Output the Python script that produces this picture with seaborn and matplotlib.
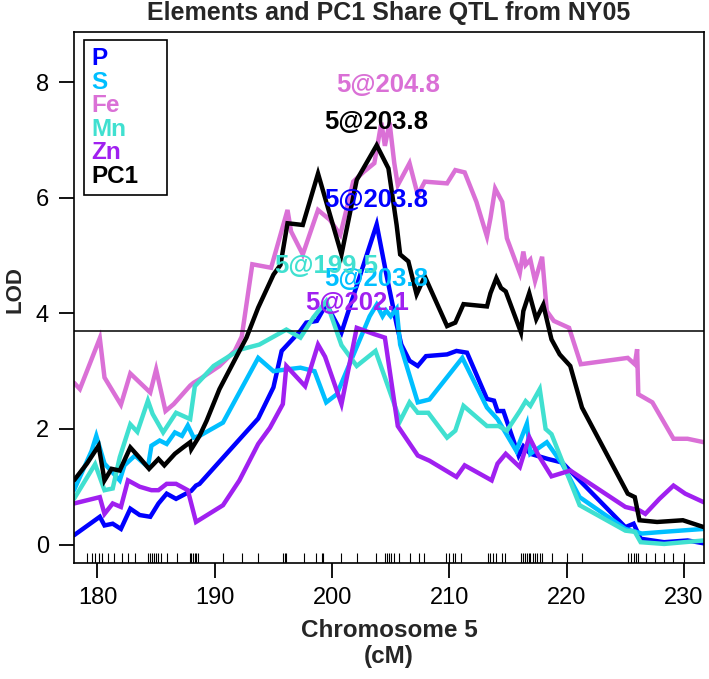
import matplotlib
matplotlib.use("Agg")
import matplotlib.pyplot as plt
import seaborn as sns
import pandas as pd
from matplotlib.lines import Line2D

# ---------------- data ----------------
p_x = [178.0, 180.2, 180.6, 181.3, 182.0, 182.8, 183.6, 184.5, 185.2, 185.9, 186.7, 188.0, 188.4, 188.7,
       191.0, 193.7, 195.0, 195.7, 197.3, 197.8, 198.7, 199.5, 200.8, 203.8, 204.6, 205.5, 205.9, 206.6,
       207.3, 208.0, 209.8, 210.6, 211.5, 213.2, 213.8, 214.1, 214.6, 215.9, 216.3, 216.9, 218.4, 219.6,
       225.0, 225.7, 226.3, 228.3, 230.3, 231.7]
p_y = [0.16, 0.48, 0.33, 0.36, 0.27, 0.62, 0.51, 0.48, 0.71, 0.88, 0.79, 0.93, 1.02, 1.05,
       1.57, 2.18, 2.72, 3.35, 3.70, 3.84, 3.87, 4.16, 3.67, 5.54, 4.70, 3.81, 3.46, 3.18,
       3.09, 3.26, 3.29, 3.35, 3.32, 2.52, 2.49, 2.31, 2.31, 1.54, 1.70, 1.57, 1.48, 1.42,
       0.30, 0.36, 0.10, 0.04, 0.07, 0.02]

s_x = [178.0, 179.5, 179.9, 180.6, 181.9, 182.3, 183.2, 184.3, 184.6, 185.3, 185.9, 186.6, 187.2, 187.7,
       188.2, 188.7, 190.7, 193.7, 195.0, 196.1, 197.3, 198.5, 199.5, 200.4, 203.2, 203.8, 204.3, 204.6,
       205.0, 205.5, 205.8, 207.3, 208.3, 211.1, 213.2, 214.1, 215.7, 216.6, 216.9, 218.3, 219.6, 221.1,
       225.0, 226.4, 228.3, 231.7]
s_y = [0.94, 1.62, 1.88, 1.40, 1.11, 1.37, 1.54, 1.34, 1.71, 1.80, 1.74, 1.94, 1.88, 2.06,
       1.85, 1.88, 2.11, 3.23, 3.00, 3.03, 3.06, 3.00, 2.46, 2.60, 3.95, 4.15, 3.95, 4.05,
       3.95, 4.08, 3.46, 2.46, 2.51, 3.23, 2.37, 2.17, 1.62, 2.09, 1.57, 1.77, 1.40, 0.82,
       0.27, 0.19, 0.22, 0.27]

fe_x = [178.0, 178.5, 180.2, 180.6, 182.0, 182.8, 184.5, 185.0, 185.8, 186.5, 187.9, 188.2, 188.7, 190.4,
        191.7, 192.3, 193.2, 194.8, 196.2, 196.5, 197.5, 198.8, 199.8, 200.7, 201.8, 202.7, 203.6, 204.2,
        204.5, 204.9, 205.3, 205.6, 206.6, 207.3, 207.9, 209.8, 210.5, 211.3, 212.3, 213.2, 213.5, 213.9,
        214.5, 214.9, 216.0, 216.3, 216.5, 216.9, 217.3, 217.9, 218.3, 218.9, 220.2, 221.2, 225.2, 225.8,
        226.0, 226.1, 227.3, 229.1, 230.3, 231.7]
fe_y = [2.80, 2.69, 3.57, 2.89, 2.42, 2.96, 2.63, 3.03, 2.31, 2.43, 2.75, 2.80, 2.86, 3.09,
        3.35, 3.60, 4.85, 4.79, 5.79, 5.42, 5.02, 5.79, 5.62, 5.36, 6.28, 6.45, 6.60, 7.30,
        6.90, 7.30, 6.60, 6.22, 6.60, 6.05, 6.28, 6.25, 6.48, 6.44, 5.93, 5.33, 5.65, 6.16,
        5.93, 5.30, 4.70, 5.07, 4.84, 4.93, 4.56, 4.98, 4.04, 3.87, 3.75, 3.12, 3.23, 3.12,
        3.38, 2.60, 2.46, 1.83, 1.83, 1.77]

mn_x = [178.0, 179.8, 180.6, 181.3, 181.9, 182.8, 183.4, 184.3, 184.7, 185.6, 186.7, 187.9, 188.3, 189.9,
        192.1, 193.8, 196.1, 197.3, 198.4, 199.5, 200.8, 202.1, 203.7, 204.5, 205.8, 206.6, 207.3, 208.2,
        209.8, 210.5, 211.2, 213.2, 214.2, 214.9, 216.0, 216.5, 216.9, 217.7, 218.2, 218.7, 219.6, 221.1,
        225.0, 225.8, 226.3, 228.3, 231.7]
mn_y = [0.79, 1.39, 0.94, 0.97, 1.51, 2.08, 1.95, 2.49, 2.26, 1.94, 2.28, 2.17, 2.74, 3.09,
        3.37, 3.46, 3.72, 3.58, 3.93, 4.21, 3.45, 3.09, 3.35, 2.89, 2.14, 2.46, 2.28, 2.28,
        1.85, 1.97, 2.40, 2.05, 2.05, 1.97, 2.31, 2.48, 2.40, 2.69, 2.00, 1.91, 1.45, 0.68,
        0.24, 0.22, 0.04, 0.01, 0.07]

zn_x = [178.0, 180.2, 180.6, 181.3, 182.0, 182.6, 183.6, 184.6, 185.2, 185.9, 186.7, 187.7, 188.4, 190.7,
        192.1, 193.7, 194.7, 195.8, 196.1, 197.7, 198.8, 199.4, 200.8, 202.1, 203.6, 204.5, 205.6, 207.3,
        208.3, 210.6, 211.3, 213.6, 214.1, 214.8, 216.0, 216.8, 217.6, 218.7, 220.3, 225.0, 226.2, 226.7,
        227.9, 229.1, 230.1, 231.7]
zn_y = [0.71, 0.82, 0.53, 0.71, 0.65, 1.11, 1.00, 0.94, 0.94, 1.05, 1.05, 0.94, 0.39, 0.68,
        1.11, 1.74, 2.02, 2.43, 3.09, 2.74, 3.46, 3.25, 2.43, 3.75, 3.64, 3.58, 2.05, 1.54,
        1.45, 1.17, 1.37, 1.11, 1.40, 1.57, 1.34, 1.86, 1.54, 1.18, 1.28, 0.65, 0.59, 0.53,
        0.79, 1.02, 0.88, 0.73]

pc1_x = [178.0, 179.1, 180.1, 180.6, 181.2, 181.9, 182.8, 183.6, 184.4, 185.2, 185.7, 186.6, 187.3, 187.9,
         188.0, 188.7, 189.3, 190.4, 192.1, 192.7, 193.7, 195.0, 195.6, 196.2, 197.5, 198.8, 200.8, 202.1,
         203.8, 204.8, 205.5, 205.8, 206.5, 207.2, 207.9, 209.8, 210.5, 211.2, 213.2, 213.5, 214.0, 214.4,
         214.8, 216.1, 216.3, 216.8, 217.4, 218.0, 218.7, 219.4, 220.3, 221.3, 225.2, 225.8, 226.2, 227.7,
         229.9, 231.7]
pc1_y = [1.11, 1.40, 1.71, 1.11, 1.31, 1.28, 1.68, 1.50, 1.31, 1.48, 1.37, 1.57, 1.68, 1.77,
         1.65, 1.88, 2.14, 2.69, 3.35, 3.58, 4.10, 4.67, 4.84, 5.56, 5.53, 6.42, 5.02, 6.31,
         6.91, 6.51, 5.53, 5.02, 4.90, 4.33, 4.64, 3.78, 3.84, 4.16, 4.12, 4.35, 4.61, 4.44,
         4.38, 3.67, 4.04, 4.35, 3.90, 4.15, 3.55, 3.29, 3.09, 2.37, 0.88, 0.82, 0.42, 0.39,
         0.42, 0.30]

markers = [179.1, 179.5, 179.8, 180.1, 180.4, 180.9, 181.4, 182.1, 182.6, 183.2, 184.35, 184.5, 184.65,
           184.8, 185.0, 185.2, 185.4, 185.9, 186.8, 187.9, 188.0, 188.15, 188.3, 188.4, 188.55, 190.7,
           192.3, 193.7, 195.8, 195.95, 196.1, 197.6, 198.6, 199.1, 199.25, 200.8, 202.1, 203.7, 204.55,
           204.7, 204.85, 205.0, 205.3, 205.7, 206.6, 207.4, 207.8, 209.7, 210.0, 210.3, 210.5, 211.0,
           213.3, 213.5, 213.7, 214.0, 214.5, 214.75, 216.1, 216.25, 216.45, 216.6, 216.75, 216.9, 217.1,
           217.3, 217.5, 217.7, 217.85, 218.75, 220.05, 221.3, 225.2, 225.5, 225.7, 225.9, 226.05, 226.75,
           227.5, 228.3, 229.1, 230.0]

traits = ["P", "S", "Fe", "Mn", "Zn", "PC1"]
colors = ["#0000FF", "#00BFFF", "#DA70D6", "#40E0D0", "#A020F0", "#000000"]
series_x = [p_x, s_x, fe_x, mn_x, zn_x, pc1_x]
series_y = [p_y, s_y, fe_y, mn_y, zn_y, pc1_y]

peak_labels = ["5@203.8", "5@203.8", "5@204.8", "5@199.5", "5@202.1", "5@203.8"]
label_x = [203.8, 203.8, 204.8, 199.5, 202.1, 203.8]
label_y = [5.97, 4.59, 7.95, 4.82, 4.18, 7.32]

threshold = 3.7
x_ticks = [180, 190, 200, 210, 220, 230]
y_ticks = [0, 2, 4, 6, 8]

# ---------------- plot ----------------
sns.set_theme(style="white")
fam = ["Liberation Sans", "DejaVu Sans"]
plt.rcParams["font.family"] = fam

fig = plt.figure(figsize=(7.09, 6.79), dpi=100)
ax = fig.add_axes([74 / 709, 1 - 563 / 679, 630 / 709, 531 / 679])

for name, xs, ys, c in zip(traits, series_x, series_y, colors):
    df = pd.DataFrame({"cM": xs, "LOD": ys})
    sns.lineplot(data=df, x="cM", y="LOD", sort=False, estimator=None, color=c,
                 linewidth=3.2, ax=ax, solid_joinstyle="miter")

sns.rugplot(x=markers, height=0.019, color="black", linewidth=0.8, ax=ax)
ax.axhline(threshold, color="black", linewidth=1.1)

for txt, lx, ly, c in zip(peak_labels, label_x, label_y, colors):
    ax.text(lx, ly, txt, color=c, ha="center", va="center", fontsize=18.5, fontweight="bold")

ax.set_xlim(178.0, 231.7)
ax.set_ylim(-0.32, 8.87)
ax.set_xticks(x_ticks)
ax.set_yticks(y_ticks)
ax.tick_params(axis="both", direction="out", length=11, width=1.3, labelsize=17,
               color="black", labelcolor="black", bottom=True, left=True)
ax.tick_params(axis="x", pad=6)
ax.tick_params(axis="y", pad=7)
for sp in ax.spines.values():
    sp.set_visible(True)
    sp.set_color("black")
    sp.set_linewidth(1.2)

ax.set_xlabel("Chromosome 5\n(cM)", fontsize=17.5, fontweight="bold", linespacing=1.15)
ax.xaxis.set_label_coords(0.5, -0.152)
ax.xaxis.label.set_va("center")
ax.set_ylabel("LOD", fontsize=16, fontweight="bold")
ax.yaxis.set_label_coords(-0.094, 0.515)
ax.yaxis.label.set_va("center")

ax.text(0.5, 1 + 19 / 531, "Elements and PC1 Share QTL from NY05", transform=ax.transAxes,
        ha="center", va="center", fontsize=18, fontweight="bold")

handles = [Line2D([], [], linestyle="none") for _ in traits]
leg_top = 1 - 8 / 531
leg = ax.legend(handles, traits, loc="upper left", mode="expand",
                bbox_to_anchor=(10 / 630, 0.5, 83 / 630, leg_top - 0.5),
                handlelength=0, handletextpad=0, labelcolor=colors,
                frameon=True, fancybox=False, borderaxespad=0, labelspacing=0.02, borderpad=0.3,
                prop={"weight": "bold", "size": 17.5, "family": fam})
leg.get_frame().set_edgecolor("black")
leg.get_frame().set_linewidth(1.2)
leg.get_frame().set_alpha(1)

fig.savefig("out.png", dpi=100)
